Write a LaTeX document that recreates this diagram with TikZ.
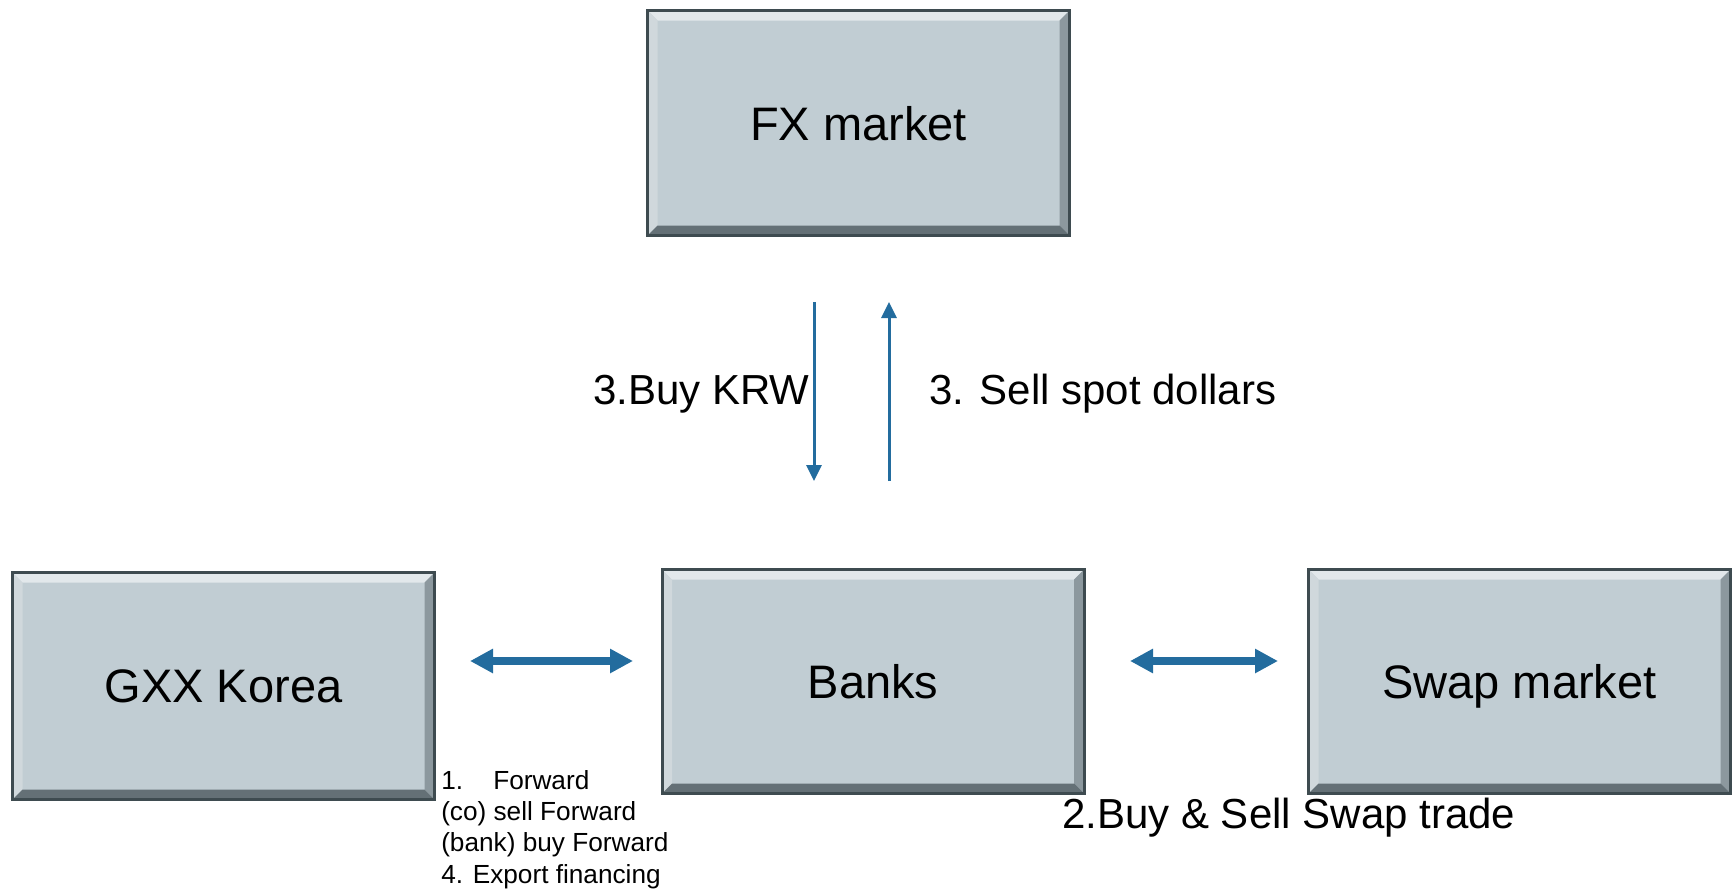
\documentclass[tikz,border=0pt]{standalone}
\usepackage{fontspec}
\setmainfont{Liberation Sans}
\usetikzlibrary{arrows.meta}
\definecolor{face}{RGB}{193,205,211}
\definecolor{rim}{RGB}{62,75,80}
\definecolor{bevtop}{RGB}{226,232,235}
\definecolor{bevleft}{RGB}{208,216,220}
\definecolor{bevright}{RGB}{140,152,158}
\definecolor{bevbot}{RGB}{100,112,118}
\definecolor{arrowblue}{RGB}{35,108,158}
\newcommand\bevw{7.5pt}
\newcommand\ppb{path picture bounding box}
\begin{document}
\begin{tikzpicture}[x=0.75pt,y=-0.75pt,
  bevel/.style={path picture={
    \fill[bevtop] (\ppb.north west) -- (\ppb.north east) -- ([shift={(-\bevw,-\bevw)}]\ppb.north east) -- ([shift={(\bevw,-\bevw)}]\ppb.north west) -- cycle;
    \fill[bevleft] (\ppb.north west) -- ([shift={(\bevw,-\bevw)}]\ppb.north west) -- ([shift={(\bevw,\bevw)}]\ppb.south west) -- (\ppb.south west) -- cycle;
    \fill[bevright] (\ppb.north east) -- ([shift={(-\bevw,-\bevw)}]\ppb.north east) -- ([shift={(-\bevw,\bevw)}]\ppb.south east) -- (\ppb.south east) -- cycle;
    \fill[bevbot] (\ppb.south west) -- ([shift={(\bevw,\bevw)}]\ppb.south west) -- ([shift={(-\bevw,\bevw)}]\ppb.south east) -- (\ppb.south east) -- cycle;
  }},
  mkt/.style={rectangle, minimum width=316.5pt, fill=face, draw=rim, line width=2.25pt,
    inner sep=0pt, text depth=0pt, bevel, font=\fontsize{35.25pt}{42pt}\selectfont},
  lbl/.style={inner sep=0pt, anchor=base west, font=\fontsize{31.5pt}{38pt}\selectfont},
  small/.style={inner sep=0pt, anchor=base west, font=\fontsize{19.65pt}{23.6pt}\selectfont},
  thinarrow/.style={draw=arrowblue, line width=2.25pt, -{Triangle[width=11.25pt,length=12pt]}},
  thickarrow/.style={draw=arrowblue, line width=6pt,
    {Triangle[width=17.25pt,length=17.25pt]}-{Triangle[width=17.25pt,length=17.25pt]}}
]
\useasboundingbox (0,0) rectangle (1732,893);

\node[mkt, minimum height=168.75pt] (fx) at (858.5,123) {FX market};
\node[mkt, minimum height=170.25pt] (gxx) at (223.5,686) {GXX Korea};
\node[mkt, minimum height=168pt] (banks) at (873,681.5) {Banks};
\node[mkt, minimum height=168pt] (swap) at (1519.5,681.5) {Swap market};

\coordinate (kdA) at (814,302);
\coordinate (kdB) at (814,481);
\coordinate (suA) at (889,481);
\coordinate (suB) at (889,302);
\coordinate (gbA) at (470,661);
\coordinate (gbB) at (633,661);
\coordinate (bsA) at (1130,661);
\coordinate (bsB) at (1278,661);

\draw[thinarrow] (kdA) -- (kdB);
\draw[thinarrow] (suA) -- (suB);
\draw[thickarrow] (gbA) -- (gbB);
\draw[thickarrow] (bsA) -- (bsB);

\node[lbl] (buykrw) at (593,404) {3.Buy KRW};
\node[lbl] (sellspot) at (929,404) {3. Sell spot dollars};
\node[lbl] (swaptrade) at (1062,828) {2.Buy \& Sell Swap trade};
\node[small] (fwd) at (441,789) {\vtop{\baselineskip=23.6pt
  \hbox{\makebox[39pt][l]{1.}Forward}
  \hbox{(co) sell Forward}
  \hbox{(bank) buy Forward}
  \hbox{4. Export financing}}};
\end{tikzpicture}
\end{document}
